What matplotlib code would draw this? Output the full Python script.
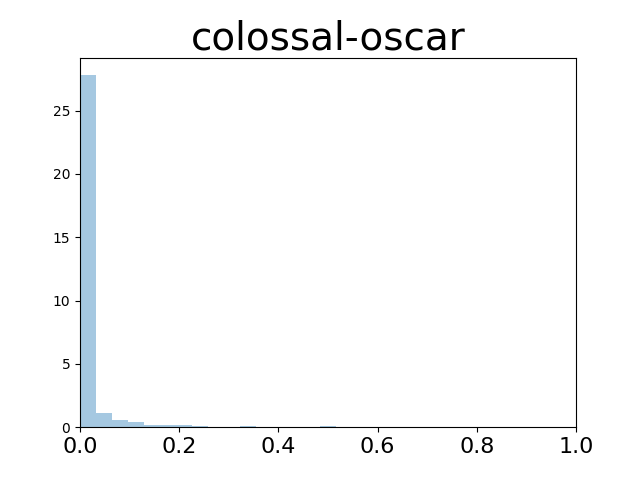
import numpy as np
import matplotlib
matplotlib.use("Agg")
import matplotlib.pyplot as plt

# histogram bins (density)
bin_edges = np.linspace(0, 0.516, 17)
density = [27.8, 1.13, 0.55, 0.40, 0.18, 0.18, 0.18, 0.08,
           0.0, 0.0, 0.08, 0.0, 0.0, 0.0, 0.0, 0.08]

fig, ax = plt.subplots(figsize=(6.4, 4.8), dpi=100)
ax.bar(bin_edges[:-1], density, width=np.diff(bin_edges), align='edge',
       color='C0', alpha=0.4, linewidth=0)
ax.set_xlim(0, 1)
ax.set_title('colossal-oscar', fontsize=28)
ax.tick_params(axis='x', labelsize=16)
fig.savefig('out.png')
